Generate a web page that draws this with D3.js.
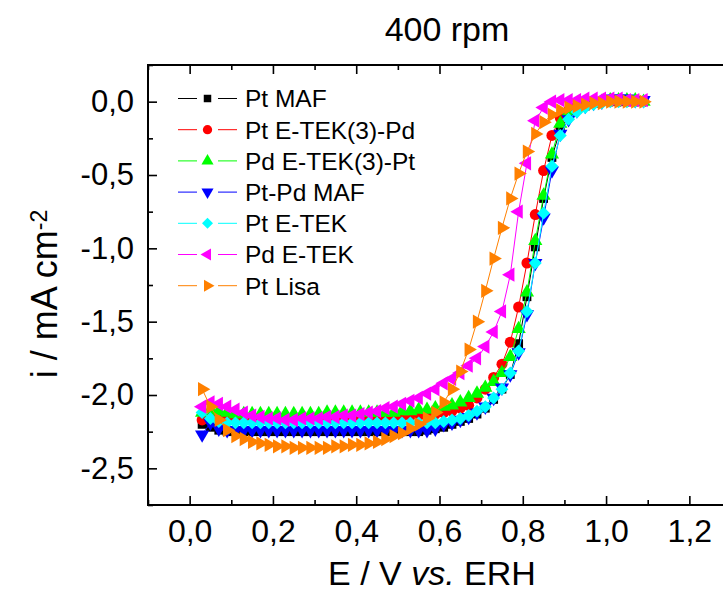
<!DOCTYPE html>
<html>
<head>
<meta charset="utf-8">
<script src="https://cdn.jsdelivr.net/npm/d3@7"></script>
<style>
  body { margin: 0; background: #fff; }
  svg { display: block; }
  text { font-family: "Liberation Sans", Arial, sans-serif; fill: #000; }
</style>
</head>
<body>
<svg id="chart"></svg>
<script>
// potential E / V vs. ERH (shared by all curves)
const potential = [
  0.03, 0.05, 0.07, 0.09, 0.11, 0.13, 0.15, 0.17, 0.19, 0.21,
  0.23, 0.25, 0.27, 0.29, 0.31, 0.33, 0.35, 0.37, 0.39, 0.41,
  0.43, 0.45, 0.47, 0.49, 0.51, 0.53, 0.55, 0.57, 0.59, 0.61,
  0.63, 0.65, 0.67, 0.69, 0.71, 0.73, 0.75, 0.77, 0.79, 0.81,
  0.83, 0.85, 0.87, 0.89, 0.91, 0.93, 0.95, 0.97, 0.99, 1.01,
  1.03, 1.05, 1.07, 1.09
];

const seriesNames = ["Pt MAF", "Pt E-TEK(3)-Pd", "Pd E-TEK(3)-Pt", "Pt-Pd MAF", "Pt E-TEK", "Pd E-TEK", "Pt Lisa"];

// current density i / mA cm-2
const ptMAF = [
  -2.20, -2.22, -2.24, -2.25, -2.25, -2.25, -2.25, -2.25, -2.25, -2.25,
  -2.25, -2.25, -2.25, -2.25, -2.25, -2.25, -2.25, -2.25, -2.25, -2.25,
  -2.25, -2.25, -2.25, -2.25, -2.25, -2.25, -2.25, -2.24, -2.23, -2.22,
  -2.20, -2.18, -2.16, -2.13, -2.09, -2.03, -1.96, -1.86, -1.65, -1.33,
  -0.99, -0.66, -0.38, -0.19, -0.10, -0.05, -0.03, -0.01, 0.00, 0.00,
  0.00, 0.00, 0.00, 0.00
];
const ptETek3Pd = [
  -2.17, -2.14, -2.15, -2.16, -2.16, -2.16, -2.16, -2.16, -2.16, -2.16,
  -2.16, -2.16, -2.16, -2.16, -2.16, -2.16, -2.16, -2.16, -2.16, -2.16,
  -2.16, -2.15, -2.15, -2.15, -2.15, -2.14, -2.14, -2.13, -2.13, -2.12,
  -2.11, -2.09, -2.07, -2.02, -1.96, -1.88, -1.79, -1.64, -1.40, -1.10,
  -0.77, -0.47, -0.23, -0.11, -0.06, -0.03, -0.01, 0.00, 0.00, 0.00,
  0.00, 0.00, 0.00, 0.00
];
const pdETek3Pt = [
  -2.12, -2.10, -2.11, -2.12, -2.13, -2.13, -2.13, -2.13, -2.13, -2.13,
  -2.13, -2.13, -2.13, -2.13, -2.13, -2.12, -2.12, -2.12, -2.12, -2.12,
  -2.12, -2.12, -2.12, -2.12, -2.11, -2.11, -2.10, -2.10, -2.09, -2.08,
  -2.07, -2.05, -2.02, -1.99, -1.95, -1.91, -1.85, -1.74, -1.55, -1.30,
  -0.95, -0.64, -0.36, -0.15, -0.07, -0.04, -0.02, -0.01, 0.00, 0.01,
  0.01, 0.01, 0.01, 0.00
];
const ptPdMAF = [
  -2.27, -2.19, -2.23, -2.24, -2.24, -2.24, -2.24, -2.24, -2.24, -2.24,
  -2.24, -2.24, -2.24, -2.24, -2.24, -2.24, -2.24, -2.24, -2.24, -2.24,
  -2.24, -2.24, -2.24, -2.24, -2.24, -2.24, -2.24, -2.24, -2.23, -2.20,
  -2.19, -2.17, -2.15, -2.12, -2.08, -2.02, -1.95, -1.86, -1.71, -1.45,
  -1.10, -0.79, -0.47, -0.22, -0.12, -0.06, -0.03, -0.01, 0.00, 0.02,
  0.02, 0.02, 0.01, 0.01
];
const ptETek = [
  -2.12, -2.16, -2.18, -2.19, -2.19, -2.19, -2.19, -2.19, -2.19, -2.19,
  -2.19, -2.19, -2.19, -2.19, -2.19, -2.19, -2.19, -2.19, -2.19, -2.19,
  -2.19, -2.19, -2.19, -2.19, -2.19, -2.19, -2.19, -2.19, -2.19, -2.18,
  -2.17, -2.16, -2.14, -2.11, -2.08, -2.02, -1.96, -1.85, -1.70, -1.43,
  -1.10, -0.76, -0.44, -0.23, -0.12, -0.07, -0.04, -0.02, -0.01, 0.00,
  0.00, 0.00, 0.00, 0.00
];
const pdETek = [
  -2.08, -2.05, -2.06, -2.08, -2.10, -2.12, -2.14, -2.15, -2.16, -2.16,
  -2.17, -2.17, -2.16, -2.16, -2.16, -2.15, -2.15, -2.14, -2.14, -2.13,
  -2.12, -2.11, -2.09, -2.08, -2.06, -2.04, -2.02, -1.99, -1.96, -1.92,
  -1.89, -1.85, -1.80, -1.75, -1.67, -1.57, -1.43, -1.18, -0.75, -0.42,
  -0.13, -0.04, 0.00, 0.01, 0.01, 0.01, 0.02, 0.02, 0.02, 0.02,
  0.02, 0.01, 0.01, 0.01
];
const ptLisa = [
  -1.96, -2.08, -2.17, -2.24, -2.28, -2.30, -2.32, -2.33, -2.34, -2.35,
  -2.35, -2.36, -2.36, -2.36, -2.36, -2.36, -2.35, -2.35, -2.34, -2.34,
  -2.33, -2.32, -2.30, -2.28, -2.26, -2.23, -2.20, -2.16, -2.12, -2.05,
  -1.96, -1.84, -1.69, -1.50, -1.29, -1.07, -0.86, -0.66, -0.49, -0.34,
  -0.22, -0.14, -0.09, -0.06, -0.04, -0.03, -0.02, -0.01, -0.01, 0.00,
  0.00, 0.00, 0.00, 0.00
];

const xMajorTicks = [0, 0.2, 0.4, 0.6, 0.8, 1.0, 1.2];
const xMinorTicks = [-0.1, 0.1, 0.3, 0.5, 0.7, 0.9, 1.1];
const yMajorTicks = [0, -0.5, -1.0, -1.5, -2.0, -2.5];
const yMinorTicks = [0.25, -0.25, -0.75, -1.25, -1.75, -2.25, -2.75];

// styling
const seriesColors = ["#000000", "#ff0000", "#00ff00", "#0000ff", "#00ffff", "#ff00ff", "#ff8000"];
const seriesMarkers = [
  { type: d3.symbolSquare, size: 78, rotate: 0 },
  { type: d3.symbolCircle, size: 95, rotate: 0 },
  { type: d3.symbolTriangle, size: 88, rotate: 0 },
  { type: d3.symbolTriangle, size: 88, rotate: 180 },
  { type: d3.symbolSquare, size: 84, rotate: 45 },
  { type: d3.symbolTriangle, size: 88, rotate: -90 },
  { type: d3.symbolTriangle, size: 88, rotate: 90 }
];
const seriesValues = [ptMAF, ptETek3Pd, pdETek3Pt, ptPdMAF, ptETek, pdETek, ptLisa];

const width = 723, height = 591;
const plot = { left: 148, right: 731, top: 65, bottom: 505 };

const svg = d3.select("#chart").attr("width", width).attr("height", height);

const x = d3.scaleLinear().domain([-0.1, 1.3]).range([plot.left, plot.right]);
const y = d3.scaleLinear().domain([-2.75, 0.25]).range([plot.bottom, plot.top]);

const fmt = v => d3.format(".1f")(v).replace(".", ",").replace("−", "-");

// axes, ticks pointing inward
function drawAxis(axis, transform, fontSize) {
  const g = svg.append("g").attr("transform", transform).call(axis);
  g.select(".domain").remove();
  g.selectAll(".tick line").attr("stroke", "#000").attr("stroke-width", 1.6);
  if (fontSize) {
    g.selectAll(".tick text").style("font-size", fontSize).attr("fill", "#000");
  } else {
    g.selectAll(".tick text").remove();
  }
  return g;
}

drawAxis(d3.axisBottom(x).tickValues(xMajorTicks).tickSize(-9).tickPadding(14).tickFormat(fmt),
  `translate(0,${plot.bottom})`, "32px");
drawAxis(d3.axisBottom(x).tickValues(xMinorTicks).tickSize(-5), `translate(0,${plot.bottom})`);
drawAxis(d3.axisTop(x).tickValues(xMajorTicks).tickSize(-9), `translate(0,${plot.top})`);
drawAxis(d3.axisTop(x).tickValues(xMinorTicks).tickSize(-5), `translate(0,${plot.top})`);
drawAxis(d3.axisLeft(y).tickValues(yMajorTicks).tickSize(-9).tickPadding(14).tickFormat(fmt),
  `translate(${plot.left},0)`, "31px");
drawAxis(d3.axisLeft(y).tickValues(yMinorTicks).tickSize(-5), `translate(${plot.left},0)`);

svg.append("rect")
  .attr("x", plot.left).attr("y", plot.top)
  .attr("width", plot.right - plot.left).attr("height", plot.bottom - plot.top)
  .attr("fill", "none").attr("stroke", "#000").attr("stroke-width", 2);

// curves
const line = d3.line().x(d => x(d[0])).y(d => y(d[1]));

seriesValues.forEach((vals, s) => {
  const pts = potential.map((e, i) => [e, vals[i]]);
  const g = svg.append("g").attr("class", "series");
  g.append("path")
    .attr("d", line(pts))
    .attr("fill", "none")
    .attr("stroke", seriesColors[s])
    .attr("stroke-width", 1);
  const m = seriesMarkers[s];
  g.selectAll("path.marker")
    .data(pts)
    .enter().append("path")
    .attr("class", "marker")
    .attr("d", d3.symbol().type(m.type).size(m.size))
    .attr("transform", d => `translate(${x(d[0])},${y(d[1])}) rotate(${m.rotate})`)
    .attr("fill", seriesColors[s]);
});

// legend
const legend = svg.append("g").attr("class", "legend");
seriesNames.forEach((name, s) => {
  const ly = 98.5 + s * 31.2;
  const row = legend.append("g").attr("transform", `translate(0,${ly})`);
  row.append("line").attr("x1", 178).attr("x2", 197).attr("y1", 0).attr("y2", 0)
    .attr("stroke", seriesColors[s]).attr("stroke-width", 1);
  row.append("line").attr("x1", 218).attr("x2", 237).attr("y1", 0).attr("y2", 0)
    .attr("stroke", seriesColors[s]).attr("stroke-width", 1);
  const m = seriesMarkers[s];
  row.append("path")
    .attr("d", d3.symbol().type(m.type).size(m.size * 0.72))
    .attr("transform", `translate(207.5,0) rotate(${m.rotate})`)
    .attr("fill", seriesColors[s]);
  row.append("text")
    .attr("x", 245).attr("y", 0).attr("dy", "0.36em")
    .style("font-size", "24.5px")
    .text(name);
});

// titles
svg.append("text")
  .attr("x", 447).attr("y", 41)
  .attr("text-anchor", "middle")
  .style("font-size", "34px")
  .text("400 rpm");

const xTitle = svg.append("text")
  .attr("x", 432).attr("y", 585)
  .attr("text-anchor", "middle")
  .style("font-size", "34px");
xTitle.append("tspan").text("E / V ");
xTitle.append("tspan").style("font-style", "italic").text("vs.");
xTitle.append("tspan").text(" ERH");

const yTitle = svg.append("text")
  .attr("transform", "translate(57,294) rotate(-90)")
  .attr("text-anchor", "middle")
  .style("font-size", "36px");
yTitle.append("tspan").text("i / mA cm");
yTitle.append("tspan").attr("dy", "-0.45em").style("font-size", "23px").text("-2");
</script>
</body>
</html>
